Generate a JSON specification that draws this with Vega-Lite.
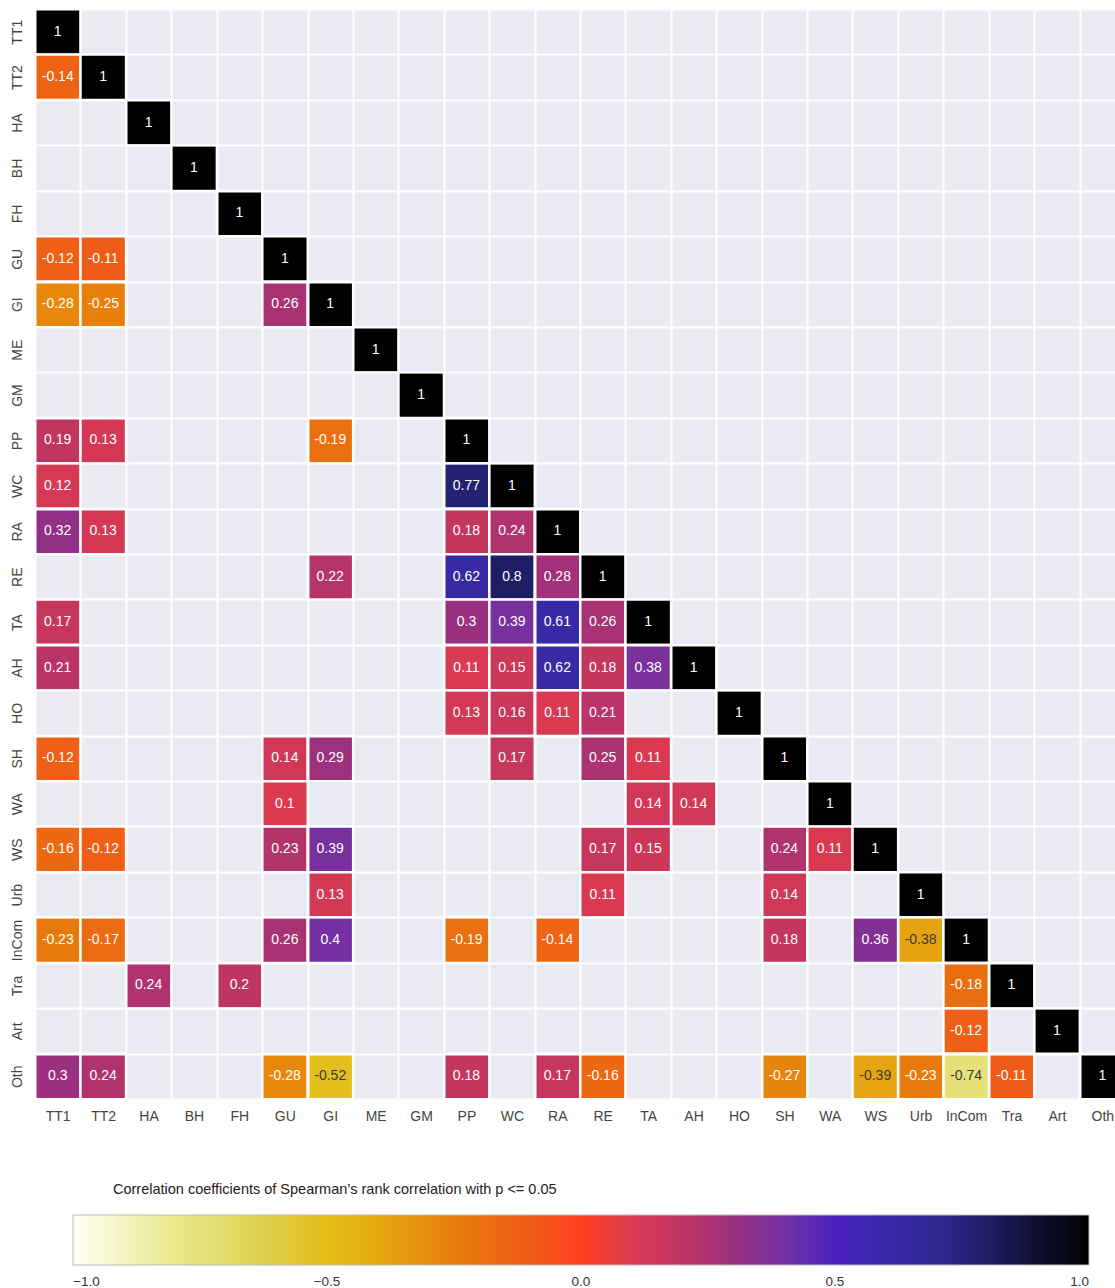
{
  "$schema": "https://vega.github.io/schema/vega-lite/v6.json",
  "width": 1090,
  "height": 1090,
  "autosize": {"type": "none"},
  "padding": {"left": 35, "top": 9, "right": 0, "bottom": 189},
  "background": "white",
  "title": {
    "text": "Correlation coefficients of Spearman’s rank correlation with p <= 0.05",
    "orient": "bottom",
    "anchor": "start",
    "frame": "group",
    "offset": 0,
    "dx": 78,
    "dy": -106,
    "baseline": "top",
    "font": "Liberation Sans",
    "fontSize": 14.5,
    "fontWeight": "normal",
    "color": "#222222"
  },
  "config": {
    "view": {"stroke": null, "fill": "#EAEAF2"},
    "axis": {
      "domain": false,
      "ticks": false,
      "tickSize": 0,
      "grid": true,
      "gridColor": "#FFFFFF",
      "gridWidth": 2,
      "gridOpacity": 1,
      "tickBand": "extent",
      "labelFont": "Liberation Sans",
      "labelFontSize": 14,
      "labelColor": "#444444",
      "title": null
    }
  },
  "data": {
    "values": [
      {"row": "TT1", "col": "TT1", "r": 1},
      {"row": "TT2", "col": "TT1", "r": -0.14},
      {"row": "TT2", "col": "TT2", "r": 1},
      {"row": "HA", "col": "HA", "r": 1},
      {"row": "BH", "col": "BH", "r": 1},
      {"row": "FH", "col": "FH", "r": 1},
      {"row": "GU", "col": "TT1", "r": -0.12},
      {"row": "GU", "col": "TT2", "r": -0.11},
      {"row": "GU", "col": "GU", "r": 1},
      {"row": "GI", "col": "TT1", "r": -0.28},
      {"row": "GI", "col": "TT2", "r": -0.25},
      {"row": "GI", "col": "GU", "r": 0.26},
      {"row": "GI", "col": "GI", "r": 1},
      {"row": "ME", "col": "ME", "r": 1},
      {"row": "GM", "col": "GM", "r": 1},
      {"row": "PP", "col": "TT1", "r": 0.19},
      {"row": "PP", "col": "TT2", "r": 0.13},
      {"row": "PP", "col": "GI", "r": -0.19},
      {"row": "PP", "col": "PP", "r": 1},
      {"row": "WC", "col": "TT1", "r": 0.12},
      {"row": "WC", "col": "PP", "r": 0.77},
      {"row": "WC", "col": "WC", "r": 1},
      {"row": "RA", "col": "TT1", "r": 0.32},
      {"row": "RA", "col": "TT2", "r": 0.13},
      {"row": "RA", "col": "PP", "r": 0.18},
      {"row": "RA", "col": "WC", "r": 0.24},
      {"row": "RA", "col": "RA", "r": 1},
      {"row": "RE", "col": "GI", "r": 0.22},
      {"row": "RE", "col": "PP", "r": 0.62},
      {"row": "RE", "col": "WC", "r": 0.8},
      {"row": "RE", "col": "RA", "r": 0.28},
      {"row": "RE", "col": "RE", "r": 1},
      {"row": "TA", "col": "TT1", "r": 0.17},
      {"row": "TA", "col": "PP", "r": 0.3},
      {"row": "TA", "col": "WC", "r": 0.39},
      {"row": "TA", "col": "RA", "r": 0.61},
      {"row": "TA", "col": "RE", "r": 0.26},
      {"row": "TA", "col": "TA", "r": 1},
      {"row": "AH", "col": "TT1", "r": 0.21},
      {"row": "AH", "col": "PP", "r": 0.11},
      {"row": "AH", "col": "WC", "r": 0.15},
      {"row": "AH", "col": "RA", "r": 0.62},
      {"row": "AH", "col": "RE", "r": 0.18},
      {"row": "AH", "col": "TA", "r": 0.38},
      {"row": "AH", "col": "AH", "r": 1},
      {"row": "HO", "col": "PP", "r": 0.13},
      {"row": "HO", "col": "WC", "r": 0.16},
      {"row": "HO", "col": "RA", "r": 0.11},
      {"row": "HO", "col": "RE", "r": 0.21},
      {"row": "HO", "col": "HO", "r": 1},
      {"row": "SH", "col": "TT1", "r": -0.12},
      {"row": "SH", "col": "GU", "r": 0.14},
      {"row": "SH", "col": "GI", "r": 0.29},
      {"row": "SH", "col": "WC", "r": 0.17},
      {"row": "SH", "col": "RE", "r": 0.25},
      {"row": "SH", "col": "TA", "r": 0.11},
      {"row": "SH", "col": "SH", "r": 1},
      {"row": "WA", "col": "GU", "r": 0.1},
      {"row": "WA", "col": "TA", "r": 0.14},
      {"row": "WA", "col": "AH", "r": 0.14},
      {"row": "WA", "col": "WA", "r": 1},
      {"row": "WS", "col": "TT1", "r": -0.16},
      {"row": "WS", "col": "TT2", "r": -0.12},
      {"row": "WS", "col": "GU", "r": 0.23},
      {"row": "WS", "col": "GI", "r": 0.39},
      {"row": "WS", "col": "RE", "r": 0.17},
      {"row": "WS", "col": "TA", "r": 0.15},
      {"row": "WS", "col": "SH", "r": 0.24},
      {"row": "WS", "col": "WA", "r": 0.11},
      {"row": "WS", "col": "WS", "r": 1},
      {"row": "Urb", "col": "GI", "r": 0.13},
      {"row": "Urb", "col": "RE", "r": 0.11},
      {"row": "Urb", "col": "SH", "r": 0.14},
      {"row": "Urb", "col": "Urb", "r": 1},
      {"row": "InCom", "col": "TT1", "r": -0.23},
      {"row": "InCom", "col": "TT2", "r": -0.17},
      {"row": "InCom", "col": "GU", "r": 0.26},
      {"row": "InCom", "col": "GI", "r": 0.4},
      {"row": "InCom", "col": "PP", "r": -0.19},
      {"row": "InCom", "col": "RA", "r": -0.14},
      {"row": "InCom", "col": "SH", "r": 0.18},
      {"row": "InCom", "col": "WS", "r": 0.36},
      {"row": "InCom", "col": "Urb", "r": -0.38},
      {"row": "InCom", "col": "InCom", "r": 1},
      {"row": "Tra", "col": "HA", "r": 0.24},
      {"row": "Tra", "col": "FH", "r": 0.2},
      {"row": "Tra", "col": "InCom", "r": -0.18},
      {"row": "Tra", "col": "Tra", "r": 1},
      {"row": "Art", "col": "InCom", "r": -0.12},
      {"row": "Art", "col": "Art", "r": 1},
      {"row": "Oth", "col": "TT1", "r": 0.3},
      {"row": "Oth", "col": "TT2", "r": 0.24},
      {"row": "Oth", "col": "GU", "r": -0.28},
      {"row": "Oth", "col": "GI", "r": -0.52},
      {"row": "Oth", "col": "PP", "r": 0.18},
      {"row": "Oth", "col": "RA", "r": 0.17},
      {"row": "Oth", "col": "RE", "r": -0.16},
      {"row": "Oth", "col": "SH", "r": -0.27},
      {"row": "Oth", "col": "WS", "r": -0.39},
      {"row": "Oth", "col": "Urb", "r": -0.23},
      {"row": "Oth", "col": "InCom", "r": -0.74},
      {"row": "Oth", "col": "Tra", "r": -0.11},
      {"row": "Oth", "col": "Oth", "r": 1}
    ]
  },
  "encoding": {
    "x": {
      "field": "col",
      "type": "nominal",
      "sort": ["TT1","TT2","HA","BH","FH","GU","GI","ME","GM","PP","WC","RA","RE","TA","AH","HO","SH","WA","WS","Urb","InCom","Tra","Art","Oth"],
      "scale": {"domain": ["TT1","TT2","HA","BH","FH","GU","GI","ME","GM","PP","WC","RA","RE","TA","AH","HO","SH","WA","WS","Urb","InCom","Tra","Art","Oth"], "paddingInner": 0, "paddingOuter": 0},
      "axis": {"orient": "bottom", "labelAngle": 0, "labelPadding": 10}
    },
    "y": {
      "field": "row",
      "type": "nominal",
      "sort": ["TT1","TT2","HA","BH","FH","GU","GI","ME","GM","PP","WC","RA","RE","TA","AH","HO","SH","WA","WS","Urb","InCom","Tra","Art","Oth"],
      "scale": {"domain": ["TT1","TT2","HA","BH","FH","GU","GI","ME","GM","PP","WC","RA","RE","TA","AH","HO","SH","WA","WS","Urb","InCom","Tra","Art","Oth"], "paddingInner": 0, "paddingOuter": 0},
      "axis": {"orient": "left", "labelAngle": -90, "labelAlign": "center", "labelBaseline": "bottom", "labelPadding": 11}
    }
  },
  "layer": [
    {
      "mark": {"type": "rect", "stroke": "#FFFFFF", "strokeWidth": 2},
      "encoding": {
        "color": {
          "field": "r",
          "type": "quantitative",
          "scale": {
            "domain": [-1, -0.9, -0.8, -0.7, -0.6, -0.5, -0.4, -0.3, -0.2, -0.1, 0, 0.1, 0.2, 0.3, 0.4, 0.5, 0.6, 0.7, 0.8, 0.9, 1],
            "range": ["#FFFFF5", "#F4F2C0", "#E8E88A", "#E3DC6C", "#E0CC40", "#E4BC18", "#E5A812", "#E68C0C", "#E9720E", "#F05A18", "#FF4020", "#DC3A50", "#BE3562", "#9A3080", "#7430A2", "#4B22C0", "#3B29AA", "#2D2890", "#1E1E64", "#0E0E30", "#000000"],
            "interpolate": "rgb"
          },
          "legend": {
            "orient": "none",
            "legendX": 38,
            "legendY": 1206,
            "direction": "horizontal",
            "gradientLength": 1016,
            "gradientThickness": 50,
            "gradientStrokeColor": "#BBBBBB",
            "gradientStrokeWidth": 1,
            "title": null,
            "values": [-1, -0.5, 0, 0.5, 1],
            "format": ".1f",
            "labelAlign": "center",
            "labelFont": "Liberation Sans",
            "labelFontSize": 13.5,
            "labelColor": "#333333",
            "labelOffset": 10,
            "padding": 0
          }
        }
      }
    },
    {
      "mark": {"type": "text", "font": "Liberation Sans", "fontSize": 14},
      "encoding": {
        "text": {"field": "r", "type": "nominal"},
        "color": {
          "condition": {"test": "datum.r < -0.35", "value": "#3A3A3A"},
          "value": "#FFFFFF"
        }
      }
    }
  ]
}
